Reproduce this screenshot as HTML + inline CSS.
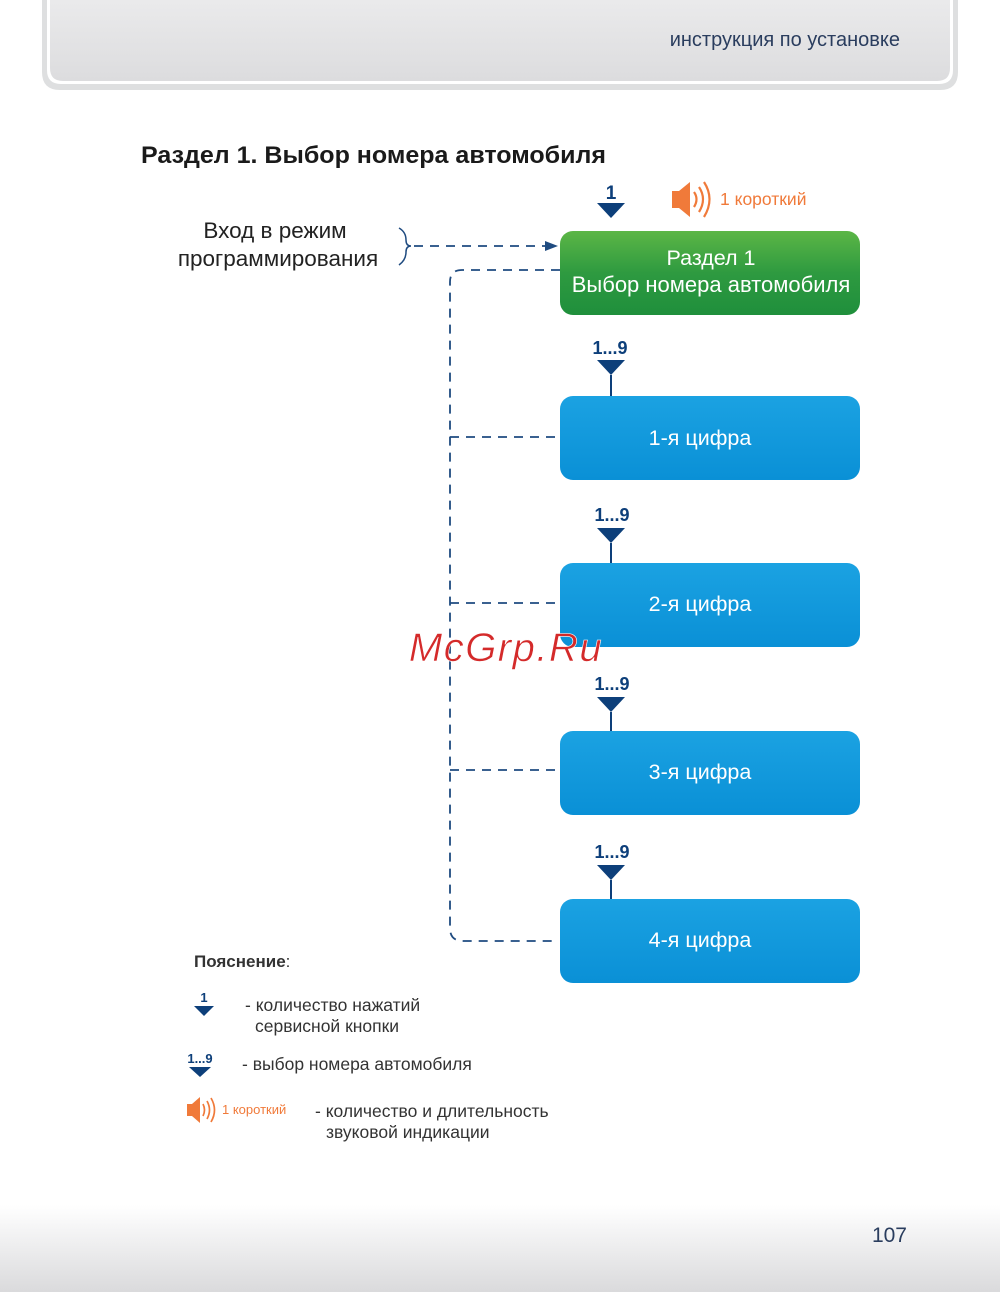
<!DOCTYPE html>
<html><head><meta charset="utf-8"><style>
html,body{margin:0;padding:0;background:#fff}
svg{display:block}
text{font-family:"Liberation Sans","Noto Sans CJK SC",sans-serif}
</style></head><body>
<svg width="1000" height="1292" viewBox="0 0 1000 1292" xmlns="http://www.w3.org/2000/svg">
<defs>
<linearGradient id="hdr" x1="0" y1="0" x2="0" y2="1"><stop offset="0" stop-color="#ececed"/><stop offset="1" stop-color="#dcdcde"/></linearGradient>
<linearGradient id="ftr" x1="0" y1="0" x2="0" y2="1"><stop offset="0" stop-color="#ffffff"/><stop offset="1" stop-color="#dadadc"/></linearGradient>
<linearGradient id="grn" x1="0" y1="0" x2="0" y2="1"><stop offset="0" stop-color="#5cb646"/><stop offset="0.5" stop-color="#2e9a40"/><stop offset="1" stop-color="#1f8f3c"/></linearGradient>
<linearGradient id="blu" x1="0" y1="0" x2="0" y2="1"><stop offset="0" stop-color="#1ba2e2"/><stop offset="1" stop-color="#0a90d6"/></linearGradient>
</defs>
<!-- header -->
<path d="M42 -10 V72 Q42 90 60 90 H940 Q958 90 958 72 V-10 Z" fill="#dedfe0"/>
<path d="M47 -10 V70 Q47 84 61 84 H939 Q953 84 953 70 V-10 Z" fill="#fff"/>
<path d="M50 -10 V68 Q50 81 63 81 H937 Q950 81 950 68 V-10 Z" fill="url(#hdr)"/>
<text x="900" y="46" text-anchor="end" font-size="20" fill="#2a3d5e">инструкция по установке</text>
<!-- footer -->
<rect x="0" y="1205" width="1000" height="87" fill="url(#ftr)"/>
<text x="907" y="1242" text-anchor="end" font-size="21" fill="#2a3d5e">107</text>
<!-- title -->
<text x="141" y="163" font-size="24" font-weight="bold" fill="#1a1a1a" textLength="465" lengthAdjust="spacingAndGlyphs">Раздел 1. Выбор номера автомобиля</text>
<!-- entry -->
<text x="275" y="238" text-anchor="middle" font-size="22.5" fill="#222">Вход в режим</text>
<text x="278" y="266" text-anchor="middle" font-size="22.5" fill="#222">программирования</text>
<path d="M399 228 Q406 232 406 240 Q406 246 411 246 Q406 246 406 252 Q406 260 399 265" fill="none" stroke="#1f4b80" stroke-width="1.5"/>
<g stroke="#1f4b80" stroke-width="1.8" fill="none" stroke-dasharray="9 7">
<line x1="414" y1="246" x2="548" y2="246"/>
<path d="M560 270 H462 Q450 270 450 282 V928 Q450 941 463 941 H558"/>
<line x1="450" y1="437" x2="560" y2="437"/>
<line x1="450" y1="603" x2="560" y2="603"/>
<line x1="450" y1="770" x2="560" y2="770"/>
</g>
<path d="M545 241 L558 246 L545 251 Z" fill="#1f4b80"/>
<!-- top arrow -->
<text x="611" y="199" text-anchor="middle" font-size="19" font-weight="bold" fill="#0d3f7a">1</text>
<path d="M597 203 H625 L611 218 Z" fill="#0d3f7a"/>
<!-- speaker -->
<g fill="#f07a3a">
<rect x="672" y="191" width="8" height="17"/>
<path d="M679 191 L690 182 V217 L679 208 Z"/>
</g>
<g fill="none" stroke="#f07a3a" stroke-width="2.2">
<path d="M694 192 Q699 199 694 207"/><path d="M699 187 Q707 199 699 212"/><path d="M704 182 Q715 199 704 217"/>
</g>
<text x="720" y="205" font-size="17.5" fill="#f07a3a">1 короткий</text>
<!-- boxes -->
<rect x="560" y="231" width="300" height="84" rx="13" fill="url(#grn)"/>
<text x="711" y="265" text-anchor="middle" font-size="21.5" fill="#fff">Раздел 1</text>
<text x="711" y="292" text-anchor="middle" font-size="22" fill="#fff">Выбор номера автомобиля</text>
<g font-size="21.5">
<rect x="560" y="396" width="300" height="84" rx="13" fill="url(#blu)"/>
<text x="700" y="445" text-anchor="middle" fill="#fff">1-я цифра</text>
<rect x="560" y="563" width="300" height="84" rx="13" fill="url(#blu)"/>
<text x="700" y="611" text-anchor="middle" fill="#fff">2-я цифра</text>
<rect x="560" y="731" width="300" height="84" rx="13" fill="url(#blu)"/>
<text x="700" y="779" text-anchor="middle" fill="#fff">3-я цифра</text>
<rect x="560" y="899" width="300" height="84" rx="13" fill="url(#blu)"/>
<text x="700" y="947" text-anchor="middle" fill="#fff">4-я цифра</text>
</g>
<!-- 1..9 arrows -->
<g fill="#0d3f7a" font-size="18" font-weight="bold" text-anchor="middle">
<text x="610" y="354">1...9</text><path d="M597 360 H625 L611 375 Z"/><rect x="610" y="375" width="2" height="21"/>
<text x="612" y="521">1...9</text><path d="M597 528 H625 L611 543 Z"/><rect x="610" y="543" width="2" height="20"/>
<text x="612" y="690">1...9</text><path d="M597 697 H625 L611 712 Z"/><rect x="610" y="712" width="2" height="19"/>
<text x="612" y="858">1...9</text><path d="M597 865 H625 L611 880 Z"/><rect x="610" y="880" width="2" height="19"/>
</g>
<!-- watermark -->
<text x="506" y="661" text-anchor="middle" font-size="40" font-style="italic" fill="#d42a2a" stroke="#fff" stroke-width="0.6" letter-spacing="1.5" font-family="'DejaVu Sans',sans-serif">McGrp.Ru</text>
<!-- legend -->
<text x="194" y="967" font-size="17" font-weight="bold" fill="#333">Пояснение<tspan font-weight="normal">:</tspan></text>
<text x="204" y="1002" text-anchor="middle" font-size="13" font-weight="bold" fill="#0d3f7a">1</text>
<path d="M194 1006 H214 L204 1016 Z" fill="#0d3f7a"/>
<g font-size="17.5" fill="#333">
<text x="245" y="1011">- количество нажатий</text>
<text x="255" y="1032">сервисной кнопки</text>
<text x="242" y="1070">- выбор номера автомобиля</text>
<text x="315" y="1117">- количество и длительность</text>
<text x="326" y="1138">звуковой индикации</text>
</g>
<text x="200" y="1063" text-anchor="middle" font-size="13" font-weight="bold" fill="#0d3f7a">1...9</text>
<path d="M189 1067 H211 L200 1077 Z" fill="#0d3f7a"/>
<g fill="#f07a3a">
<rect x="187" y="1104" width="6" height="12"/>
<path d="M192 1104 L200 1097 V1123 L192 1116 Z"/>
</g>
<g fill="none" stroke="#f07a3a" stroke-width="1.7">
<path d="M203 1104 Q206 1110 203 1116"/><path d="M207 1101 Q212 1110 207 1119"/><path d="M211 1098 Q218 1110 211 1122"/>
</g>
<text x="222" y="1114" font-size="13" fill="#f07a3a">1 короткий</text>
</svg>
</body></html>
